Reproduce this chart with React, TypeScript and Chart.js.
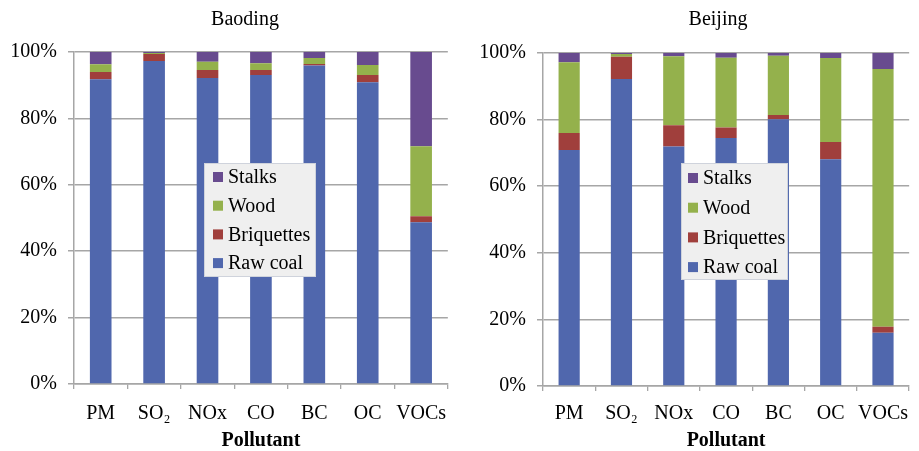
import React, { useEffect, useRef } from "react";
import { Chart, registerables } from "chart.js";

Chart.register(...registerables);

// ---------- data ----------
const pollutants = ["PM", "SO₂", "NOx", "CO", "BC", "OC", "VOCs"];
const sourceLabels = ["Raw coal", "Briquettes", "Wood", "Stalks"];
const yTickLabels = ["0%", "20%", "40%", "60%", "80%", "100%"];
const xAxisTitle = "Pollutant";

const baodingTitle = "Baoding";
const baodingRawCoal = [91.8, 97.3, 92.2, 93.1, 95.9, 90.9, 48.7];
const baodingBriquettes = [2.2, 2.1, 2.4, 1.5, 0.5, 2.2, 1.8];
const baodingWood = [2.3, 0.3, 2.5, 2.0, 1.8, 3.0, 21.1];
const baodingStalks = [3.7, 0.3, 2.9, 3.4, 1.8, 3.9, 28.4];

const beijingTitle = "Beijing";
const beijingRawCoal = [70.9, 92.2, 71.9, 74.5, 80.1, 68.1, 16.0];
const beijingBriquettes = [5.1, 6.7, 6.4, 3.1, 1.3, 5.2, 1.8];
const beijingWood = [21.2, 0.8, 20.7, 21.0, 17.8, 25.2, 77.4];
const beijingStalks = [2.8, 0.3, 1.0, 1.4, 0.8, 1.5, 4.8];

// ---------- styles ----------
const sourceColors = ["#5067AD", "#A03F3C", "#94B14C", "#684B8F"];
const FONT = "'Liberation Serif', 'Times New Roman', serif";
const gridColor = "#a6a6a6";

type Layout = {
  width: number;
  left: number;
  padRight: number;
  top: number;
  yWidth: number;
  xHeight: number;
  xPad: number;
  titleX: number;
  legend: { x: number; y: number; w: number; h: number; rowStart: number; rowStep: number; markerX: number; textX: number };
};

const leftLayout: Layout = {
  width: 460,
  left: 0,
  padRight: 12,
  top: 52,
  yWidth: 74,
  xHeight: 67,
  xPad: 13,
  titleX: 245,
  legend: { x: 204, y: 163, w: 112, h: 114, rowStart: 177, rowStep: 28.7, markerX: 213, textX: 228 },
};

const rightLayout: Layout = {
  width: 459,
  left: 460,
  padRight: 0,
  top: 53,
  yWidth: 83,
  xHeight: 65,
  xPad: 11,
  titleX: 258,
  legend: { x: 221, y: 163, w: 107, h: 117, rowStart: 178, rowStep: 29.7, markerX: 228, textX: 243 },
};

function decorPlugin(title: string, lay: Layout) {
  return {
    id: "decor",
    afterDraw(chart: any) {
      const ctx = chart.ctx as CanvasRenderingContext2D;
      ctx.save();
      // title
      ctx.fillStyle = "#000";
      ctx.font = `20px ${FONT}`;
      ctx.textAlign = "center";
      ctx.textBaseline = "alphabetic";
      ctx.fillText(title, lay.titleX, 25);
      // legend box
      const L = lay.legend;
      ctx.fillStyle = "#efefef";
      ctx.fillRect(L.x, L.y, L.w, L.h);
      ctx.strokeStyle = "#cfd3dc";
      ctx.lineWidth = 1;
      ctx.strokeRect(L.x + 0.5, L.y + 0.5, L.w - 1, L.h - 1);
      const ds = chart.data.datasets.slice().reverse();
      ctx.textAlign = "left";
      ctx.textBaseline = "middle";
      ctx.font = `20px ${FONT}`;
      ds.forEach((d: any, i: number) => {
        const cy = L.rowStart + i * L.rowStep;
        ctx.fillStyle = d.backgroundColor;
        ctx.fillRect(L.markerX, cy - 5, 10, 10);
        ctx.fillStyle = "#000";
        ctx.fillText(d.label, L.textX, cy + 1);
      });
      ctx.restore();
    },
  };
}

function buildChart(canvas: HTMLCanvasElement, title: string, series: number[][], lay: Layout) {
  const tickFont = { family: FONT, size: 20, lineHeight: 1.2 };
  return new Chart(canvas, {
    type: "bar",
    data: {
      labels: pollutants,
      datasets: series.map((d, i) => ({
        label: sourceLabels[i],
        data: d,
        backgroundColor: sourceColors[i],
        borderWidth: 0,
        barPercentage: 0.405,
        categoryPercentage: 1,
      })),
    },
    options: {
      responsive: false,
      animation: false,
      layout: { padding: { left: 0, right: lay.padRight, top: lay.top, bottom: 0 } },
      plugins: {
        legend: { display: false },
        title: { display: false },
        tooltip: { enabled: false },
      },
      scales: {
        x: {
          stacked: true,
          grid: {
            display: true,
            drawOnChartArea: false,
            drawTicks: true,
            tickLength: 5,
            color: gridColor,
            lineWidth: 1.3,
            offset: true,
          },
          border: { display: true, color: gridColor, width: 1.5 },
          ticks: { font: tickFont, color: "#000", padding: lay.xPad, maxRotation: 0, autoSkip: false },
          title: {
            display: true,
            text: xAxisTitle,
            color: "#000",
            font: { family: FONT, size: 20, weight: "bold", lineHeight: 1 },
            padding: 0,
          },
          afterFit: (s: any) => {
            s.height = lay.xHeight;
          },
        },
        y: {
          stacked: true,
          min: 0,
          max: 100,
          ticks: {
            stepSize: 20,
            font: tickFont,
            color: "#000",
            padding: 11,
            callback: (_v: any, i: number) => yTickLabels[i],
          },
          grid: { color: gridColor, lineWidth: 1.5, tickLength: 6, drawTicks: true },
          border: { display: true, color: gridColor, width: 1.5 },
          afterFit: (s: any) => {
            s.width = lay.yWidth;
          },
        },
      },
    } as any,
    plugins: [decorPlugin(title, lay)],
  });
}

function Panel({ title, series, lay }: { title: string; series: number[][]; lay: Layout }) {
  const ref = useRef<HTMLCanvasElement | null>(null);
  useEffect(() => {
    if (!ref.current) return;
    const chart = buildChart(ref.current, title, series, lay);
    return () => chart.destroy();
  }, []);
  return (
    <canvas
      ref={ref}
      width={lay.width}
      height={451}
      style={{ position: "absolute", left: lay.left, top: 0, width: lay.width, height: 451 }}
    />
  );
}

export default function App() {
  return (
    <div
      style={{
        position: "fixed",
        left: 0,
        top: 0,
        width: 919,
        height: 451,
        overflow: "hidden",
        background: "#fff",
      }}
    >
      <Panel
        title={baodingTitle}
        series={[baodingRawCoal, baodingBriquettes, baodingWood, baodingStalks]}
        lay={leftLayout}
      />
      <Panel
        title={beijingTitle}
        series={[beijingRawCoal, beijingBriquettes, beijingWood, beijingStalks]}
        lay={rightLayout}
      />
    </div>
  );
}
